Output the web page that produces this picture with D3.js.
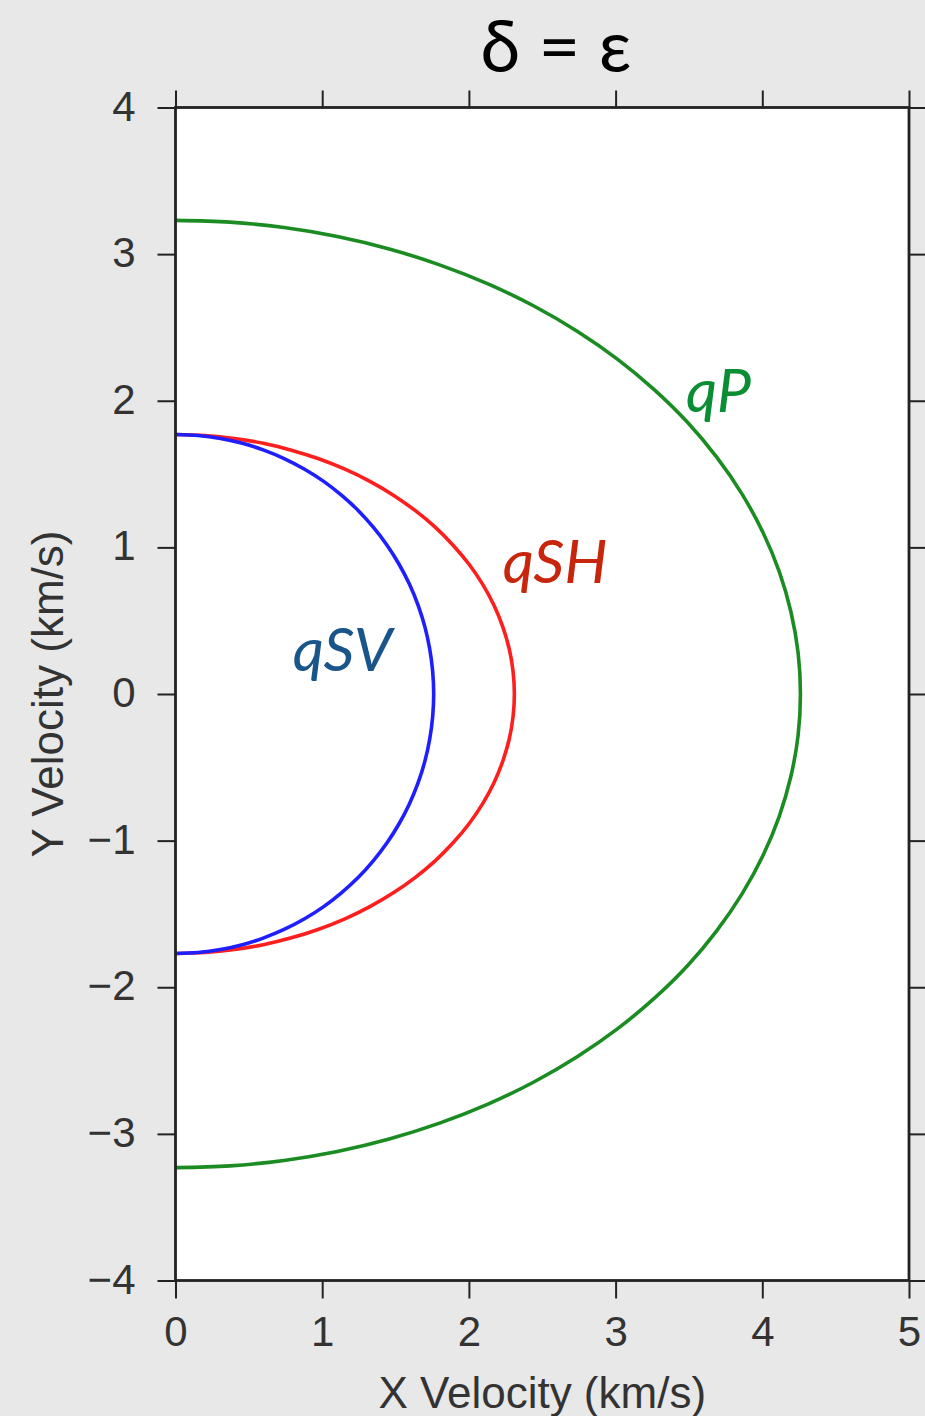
<!DOCTYPE html>
<html>
<head>
<meta charset="utf-8">
<script src="https://cdn.jsdelivr.net/npm/d3@7"></script>
<style>
  html, body { margin: 0; padding: 0; background: #e8e8e8; overflow: hidden; }
  svg { display: block; }
  .tick text { font-family: "Liberation Sans", Arial, sans-serif; fill: #333; }
</style>
</head>
<body>
<svg id="chart" width="925" height="1416"></svg>
<script>
// Wavefront points (km/s), traced from the top (x = 0) round to the bottom
const qpX = [0, 0.371, 0.740, 1.103, 1.457, 1.800, 2.130, 2.443, 2.738, 3.012, 3.263, 3.490, 3.689, 3.861, 4.003, 4.115, 4.195, 4.244, 4.260,
             4.244, 4.195, 4.115, 4.003, 3.861, 3.689, 3.490, 3.263, 3.012, 2.738, 2.443, 2.130, 1.800, 1.457, 1.103, 0.740, 0.371, 0];
const qpY = [3.230, 3.218, 3.181, 3.120, 3.035, 2.927, 2.797, 2.646, 2.474, 2.284, 2.076, 1.853, 1.615, 1.365, 1.105, 0.836, 0.561, 0.282, 0,
             -0.282, -0.561, -0.836, -1.105, -1.365, -1.615, -1.853, -2.076, -2.284, -2.474, -2.646, -2.797, -2.927, -3.035, -3.120, -3.181, -3.218, -3.230];

const qshX = [0, 0.201, 0.401, 0.598, 0.790, 0.976, 1.155, 1.325, 1.485, 1.633, 1.770, 1.892, 2.001, 2.094, 2.171, 2.231, 2.275, 2.301, 2.310,
              2.301, 2.275, 2.231, 2.171, 2.094, 2.001, 1.892, 1.770, 1.633, 1.485, 1.325, 1.155, 0.976, 0.790, 0.598, 0.401, 0.201, 0];
const qshY = [1.770, 1.763, 1.743, 1.710, 1.663, 1.604, 1.533, 1.450, 1.356, 1.252, 1.138, 1.015, 0.885, 0.748, 0.605, 0.458, 0.307, 0.154, 0,
              -0.154, -0.307, -0.458, -0.605, -0.748, -0.885, -1.015, -1.138, -1.252, -1.356, -1.450, -1.533, -1.604, -1.663, -1.710, -1.743, -1.763, -1.770];

const qsvX = [0, 0.153, 0.306, 0.456, 0.602, 0.744, 0.880, 1.010, 1.131, 1.245, 1.348, 1.442, 1.524, 1.595, 1.654, 1.700, 1.733, 1.753, 1.760,
              1.753, 1.733, 1.700, 1.654, 1.595, 1.524, 1.442, 1.348, 1.245, 1.131, 1.010, 0.880, 0.744, 0.602, 0.456, 0.306, 0.153, 0];
const qsvY = [1.770, 1.763, 1.743, 1.710, 1.663, 1.604, 1.533, 1.450, 1.356, 1.252, 1.138, 1.015, 0.885, 0.748, 0.605, 0.458, 0.307, 0.154, 0,
              -0.154, -0.307, -0.458, -0.605, -0.748, -0.885, -1.015, -1.138, -1.252, -1.356, -1.450, -1.533, -1.604, -1.663, -1.710, -1.743, -1.763, -1.770];

const xTicks = [0, 1, 2, 3, 4, 5];
const yTicks = [-4, -3, -2, -1, 0, 1, 2, 3, 4];

const titleText = "δ = ε";
const xTitle = "X Velocity (km/s)";
const yTitle = "Y Velocity (km/s)";

const series = [
  { name: "qP",  xs: qpX,  ys: qpY,  line: "#1a8c22", label: "#0b8d34", lx: 3.48, ly: 1.92 },
  { name: "qSH", xs: qshX, ys: qshY, line: "#ff1e1e", label: "#c8260c", lx: 2.23, ly: 0.76 },
  { name: "qSV", xs: qsvX, ys: qsvY, line: "#1e1eff", label: "#19548a", lx: 0.80, ly: 0.16 }
];

const svg = d3.select("#chart");
const plotL = 175.5, plotR = 909, plotT = 107.5, plotB = 1280.5;

const x = d3.scaleLinear().domain([0, 5]).range([plotL, plotR]);
const y = d3.scaleLinear().domain([-4, 4]).range([plotB, plotT]);

// plot panel
svg.append("rect")
  .attr("x", plotL).attr("y", plotT)
  .attr("width", plotR - plotL).attr("height", plotB - plotT)
  .attr("fill", "#fff");

// curves
const line = d3.line()
  .x(d => x(d[0]))
  .y(d => y(d[1]))
  .curve(d3.curveCatmullRom.alpha(0.5));

series.forEach(s => {
  const pts = s.xs.map((v, i) => [v, s.ys[i]]);
  svg.append("path")
    .datum(pts)
    .attr("d", line)
    .attr("fill", "none")
    .attr("stroke", s.line)
    .attr("stroke-width", 3.6)
    .attr("stroke-linejoin", "round");
});

// axes
const fmt = d3.format("d");
const styleAxis = g => {
  g.select(".domain").remove();
  g.selectAll(".tick line").attr("stroke", "#222").attr("stroke-width", 2);
};

svg.append("g")
  .attr("transform", `translate(0,${plotB})`)
  .call(d3.axisBottom(x).tickValues(xTicks).tickFormat(fmt).tickSize(18).tickSizeOuter(0).tickPadding(18))
  .call(styleAxis)
  .selectAll("text").attr("font-size", 42);

svg.append("g")
  .attr("transform", `translate(0,${plotT})`)
  .call(d3.axisTop(x).tickValues(xTicks).tickFormat("").tickSize(17).tickSizeOuter(0))
  .call(styleAxis);

svg.append("g")
  .attr("transform", `translate(${plotL},0)`)
  .call(d3.axisLeft(y).tickValues(yTicks).tickFormat(fmt).tickSize(18).tickSizeOuter(0).tickPadding(22))
  .call(styleAxis)
  .selectAll("text").attr("font-size", 42).attr("dy", "0.3em");

svg.append("g")
  .attr("transform", `translate(${plotR},0)`)
  .call(d3.axisRight(y).tickValues(yTicks).tickFormat("").tickSize(18).tickSizeOuter(0))
  .call(styleAxis);

// frame
svg.append("rect")
  .attr("x", plotL).attr("y", plotT)
  .attr("width", plotR - plotL).attr("height", plotB - plotT)
  .attr("fill", "none")
  .attr("stroke", "#222")
  .attr("stroke-width", 2.8);

// curve labels
series.forEach(s => {
  svg.append("text")
    .attr("x", x(s.lx))
    .attr("y", y(s.ly))
    .attr("font-family", "Lato, 'Open Sans', sans-serif")
    .attr("font-style", "italic")
    .attr("font-size", 61)
    .attr("fill", s.label)
    .text(s.name);
});

// titles
svg.append("text")
  .attr("x", 556).attr("y", 72)
  .attr("text-anchor", "middle")
  .attr("font-family", "Lato, 'Noto Sans', sans-serif")
  .attr("font-size", 72)
  .attr("fill", "#000")
  .text(titleText);

svg.append("text")
  .attr("x", x(2.5)).attr("y", 1408)
  .attr("text-anchor", "middle")
  .attr("font-family", "'Liberation Sans', Arial, sans-serif")
  .attr("font-size", 44)
  .attr("fill", "#333")
  .text(xTitle);

svg.append("text")
  .attr("transform", `translate(63,${y(0)}) rotate(-90)`)
  .attr("text-anchor", "middle")
  .attr("font-family", "'Liberation Sans', Arial, sans-serif")
  .attr("font-size", 44)
  .attr("fill", "#333")
  .text(yTitle);
</script>
</body>
</html>
